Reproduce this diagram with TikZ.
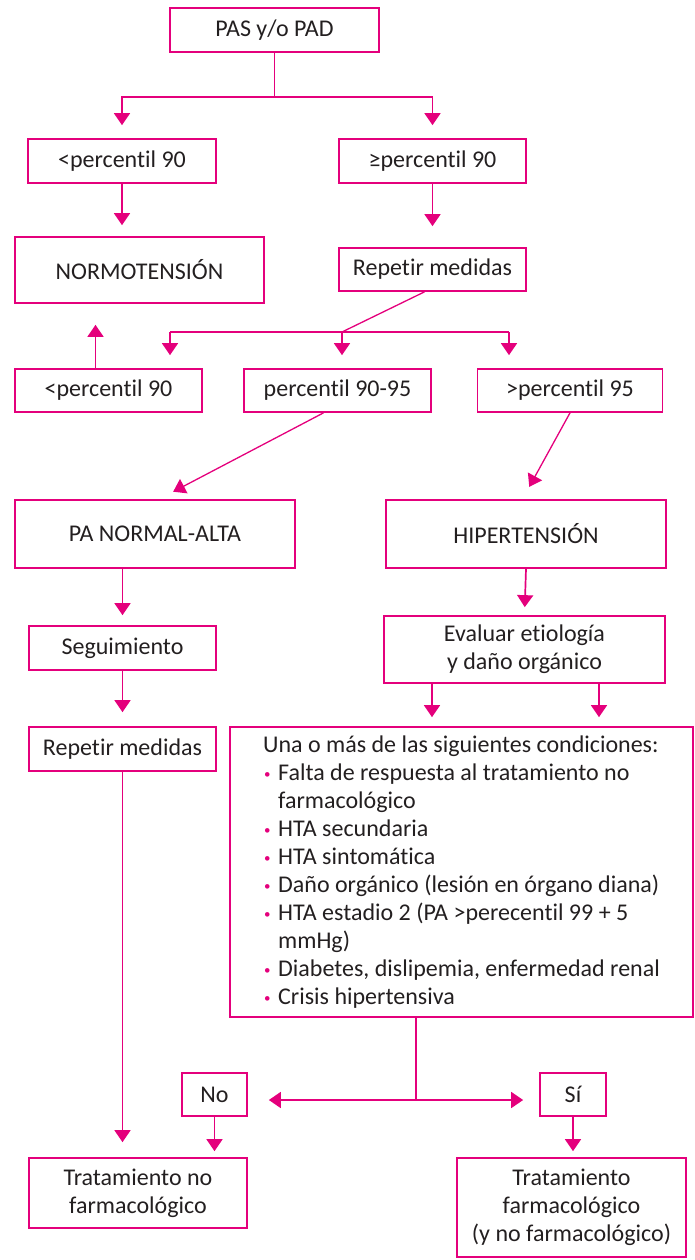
\documentclass[tikz,border=0pt]{standalone}
\usepackage{fontspec}
\setmainfont{Carlito}[Ligatures=NoCommon]
\usepackage{tikz}
\usetikzlibrary{arrows.meta,positioning}
\definecolor{rosa}{RGB}{228,0,124}
\definecolor{tinta}{RGB}{35,31,32}

% small pink bullet for the list
\newcommand{\punto}{\makebox[15pt][l]{\hspace*{1pt}\textcolor{rosa}{\raisebox{2pt}{\fontsize{13}{13}\selectfont •}}}}

\begin{document}
\begin{tikzpicture}[x=1pt,y=-1pt,font=\fontsize{24}{28}\selectfont,text=tinta,
  >={Triangle[width=16pt,length=12pt]},
  caja/.style={draw=rosa,line width=1.7pt,align=center,inner sep=0pt},
  flecha/.style={draw=rosa,line width=1.7pt}]

\useasboundingbox (0,0) rectangle (694,1260);

% --- Top ---
\node[caja,minimum width=209pt,minimum height=44pt] (pas) at (274.5,30) {PAS y/o PAD};
\node[caja,minimum width=188pt,minimum height=44pt] (menor) at (122,161) {<percentil 90};
\node[caja,minimum width=187pt,minimum height=44pt] (mayor) at (432.5,161) {≥percentil 90};
\node[caja,minimum width=249pt,minimum height=66pt] (normo) at (139.5,270) {NORMOTENSIÓN};
\node[caja,minimum width=187pt,minimum height=43pt] (rep1) at (432.5,269.5) {Repetir medidas};

\draw[flecha,->,shorten >=13pt] (pas.south) -- ++(0,44) -| (menor.north);
\draw[flecha,->,shorten >=13pt] (pas.south) -- ++(0,44) -| (mayor.north);
\draw[flecha,->,shorten >=11pt] (menor.south) -- (menor.south |- normo.north);
\draw[flecha,->,shorten >=21pt] (mayor.south) -- (mayor.south |- rep1.north);

% --- Second measurement ---
\node[caja,minimum width=187pt,minimum height=43pt] (menor2) at (108.5,390.5) {<percentil 90};
\node[caja,minimum width=187pt,minimum height=43pt] (p9095) at (337.5,390.5) {percentil 90-95};
\node[caja,minimum width=185pt,minimum height=43pt] (p95) at (570,390.5) {>percentil 95};

\coordinate (j2) at (342,332);
\coordinate (j2l) at (170,332);
\coordinate (j2r) at (509,332);
\coordinate (u1) at ([xshift=-13pt]menor2.north);

\draw[flecha,line width=1.3pt] ([xshift=-8pt]rep1.south) -- (j2);
\draw[flecha] (j2l) -- (j2r);
\draw[flecha,->,shorten >=13pt] (j2l) -- (j2l |- menor2.north);
\draw[flecha,->,shorten >=13pt] (j2) -- (j2 |- p9095.north);
\draw[flecha,->,shorten >=13pt] (j2r) -- (j2r |- p95.north);
\draw[flecha,->,shorten >=21pt] (u1) -- (u1 |- normo.south);

% --- Diagnosis ---
\node[caja,minimum width=280pt,minimum height=68pt] (normalta) at (155,534) {PA NORMAL-ALTA};
\node[caja,minimum width=280pt,minimum height=68pt] (hiper) at (526,534) {HIPERTENSIÓN};

\draw[flecha,line width=1.3pt,->,shorten >=16pt] ([xshift=-14pt]p9095.south) -- ([xshift=4pt]normalta.north);
\draw[flecha,line width=1.3pt,->,shorten >=14pt] (p95.south) -- ([xshift=-3.5pt]hiper.north);

% --- Left branch ---
\node[caja,minimum width=187pt,minimum height=44pt] (seg) at (122.5,648) {Seguimiento};
\node[caja,minimum width=187pt,minimum height=44pt] (rep2) at (122.5,749) {Repetir medidas};

\draw[flecha,->,shorten >=10pt] (seg.north |- normalta.south) -- (seg.north);
\draw[flecha,->,shorten >=14pt] (seg.south) -- (rep2.north);

% --- Right branch ---
\node[caja,minimum width=281pt,minimum height=67pt] (evaluar) at (524.5,649.5) {Evaluar etiología\\y daño orgánico};
\node[caja,minimum width=463pt,minimum height=290pt,align=left] (cond) at (461.5,872) {Una o más de las siguientes condiciones:\\
\punto Falta de respuesta al tratamiento no\\
\hspace*{15pt}farmacológico\\
\punto HTA secundaria\\
\punto HTA sintomática\\
\punto Daño orgánico (lesión en órgano diana)\\
\punto HTA estadio 2 (PA >perecentil 99 + 5\\
\hspace*{15pt}mmHg)\\
\punto Diabetes, dislipemia, enfermedad renal\\
\punto Crisis hipertensiva};

\draw[flecha,->,shorten >=8pt] (hiper.south) -- (evaluar.north);
\foreach \d/\n in {-92.5/a,74.5/b} {
  \coordinate (e\n) at ([xshift=\d pt]evaluar.south);
  \draw[flecha,->,shorten >=9pt] (e\n) -- (e\n |- cond.north);
}

% --- Decision ---
\node[caja,minimum width=65pt,minimum height=43pt] (no) at (214.5,1094.5) {No};
\node[caja,minimum width=66pt,minimum height=43pt] (si) at (573,1094.5) {Sí};

\coordinate (c1) at ([xshift=-45.5pt]cond.south);
\coordinate (j3) at (c1 |- 0,1100);
\draw[flecha] (c1) -- (j3);
\draw[flecha,->,shorten >=21pt] (j3) -- (j3 -| no.east);
\draw[flecha,->,shorten >=16pt] (j3) -- (j3 -| si.west);

% --- Treatment ---
\node[caja,minimum width=218pt,minimum height=70pt] (tnf) at (138,1193) {Tratamiento no\\farmacológico};
\node[caja,minimum width=229pt,minimum height=99pt] (tf) at (571.5,1207.5) {Tratamiento\\farmacológico\\(y no farmacológico)};

\draw[flecha,->,shorten >=15pt] (rep2.south) -- (rep2.south |- tnf.north);
\draw[flecha,->,shorten >=6pt] (no.south) -- (no.south |- tnf.north);
\draw[flecha,->,shorten >=6pt] (si.south) -- (si.south |- tf.north);

\end{tikzpicture}
\end{document}
